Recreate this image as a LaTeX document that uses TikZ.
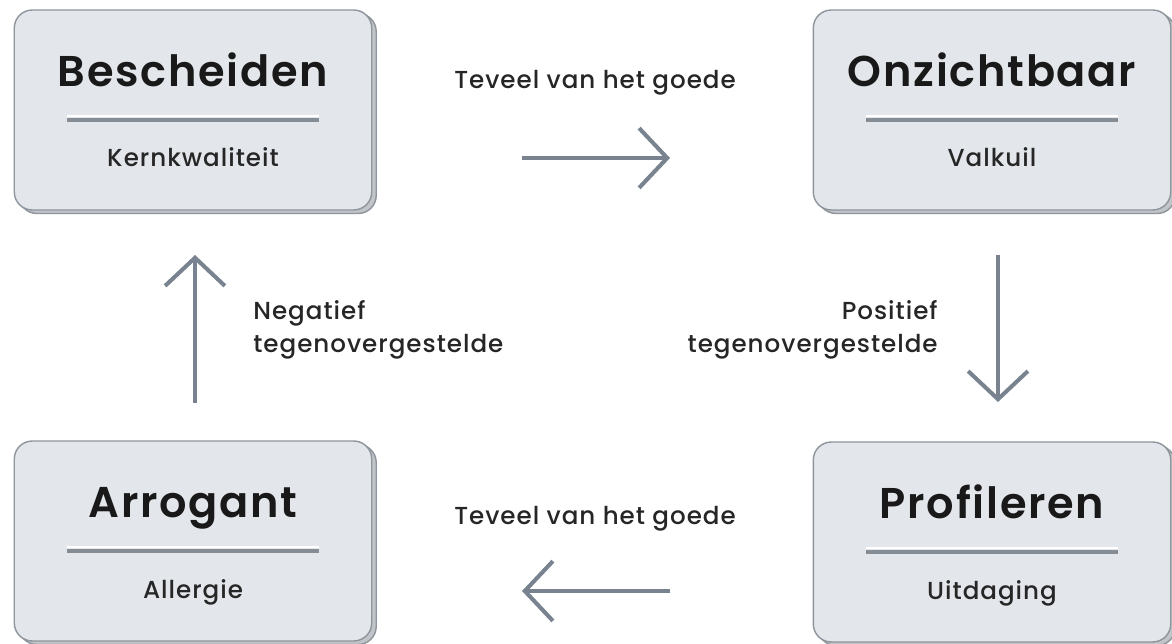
\documentclass[tikz,border=0pt]{standalone}
\usepackage{fontspec}
\setmainfont{Poppins}
\newfontfamily\medfont{Poppins Medium}[LetterSpace=4]
\newfontfamily\titlefont{Poppins SemiBold}[LetterSpace=4]
\usetikzlibrary{arrows.meta,shadows}
\definecolor{boxfill}{HTML}{E3E6EA}
\definecolor{boxline}{HTML}{8F959C}
\definecolor{arrowgray}{HTML}{78838F}
\definecolor{rulegray}{HTML}{868C94}

\begin{document}
\begin{tikzpicture}[x=0.02cm,y=-0.02cm,
kwbox/.style={draw=boxline, line width=0.8pt, fill=boxfill, rounded corners=0.36cm,
  minimum width=7.15cm, minimum height=4cm,
  copy shadow={shadow xshift=0.09cm, shadow yshift=-0.07cm, fill=boxline!55, draw=boxline}},
kwtitle/.style={anchor=base, inner sep=0pt, font=\titlefont\fontsize{24.5}{30}\selectfont, text=black!90},
kwsub/.style={anchor=base, inner sep=0pt, font=\medfont\fontsize{14}{16}\selectfont, text=black!85},
lbl/.style={inner sep=0pt, font=\medfont\fontsize{14}{19}\selectfont, text=black!85},
pijl/.style={draw=arrowgray, line width=2.3pt, -{Straight Barb[length=16pt,width=34pt]}},
pics/kwadrant/.style 2 args={code={
  \node[kwbox] (-box) at (0,0) {};
  \draw[white, line width=1.2pt] (-126,6) -- (126,6);
  \draw[rulegray, line width=2.3pt] (-126,10) -- (126,10);
  \node[kwtitle] (-title) at (0,-23) {#1};
  \node[kwsub] (-sub) at (0,57) {#2};}}
]
\useasboundingbox[fill=white] (0,0) rectangle (1172,644);

\pic (besch) at (193,110) {kwadrant={Bescheiden}{Kernkwaliteit}};
\pic (onzicht) at (992,110) {kwadrant={Onzichtbaar}{Valkuil}};
\pic (profiel) at (992,542) {kwadrant={Profileren}{Uitdaging}};
\pic (arrog) at (193,541) {kwadrant={Arrogant}{Allergie}};

% pijlen tussen de kwadranten
\coordinate (boven-a) at (522,158);
\coordinate (boven-b) at (670,158);
\coordinate (rechts-a) at (998,255);
\coordinate (rechts-b) at (998,402);
\coordinate (onder-a) at (670,591);
\coordinate (onder-b) at (522,591);
\coordinate (links-a) at (195,403);
\coordinate (links-b) at (195,255);

\draw[pijl] (boven-a) -- (boven-b);
\draw[pijl] (rechts-a) -- (rechts-b);
\draw[pijl] (onder-a) -- (onder-b);
\draw[pijl] (links-a) -- (links-b);

\node[lbl, anchor=base] (teveel-boven) at (595,89) {Teveel van het goede};
\node[lbl, anchor=base] (teveel-onder) at (595,524) {Teveel van het goede};
\node[lbl, align=right, anchor=east] (positief) at (938,330) {Positief\\tegenovergestelde};
\node[lbl, align=left, anchor=west] (negatief) at (253,330) {Negatief\\tegenovergestelde};

\end{tikzpicture}
\end{document}
